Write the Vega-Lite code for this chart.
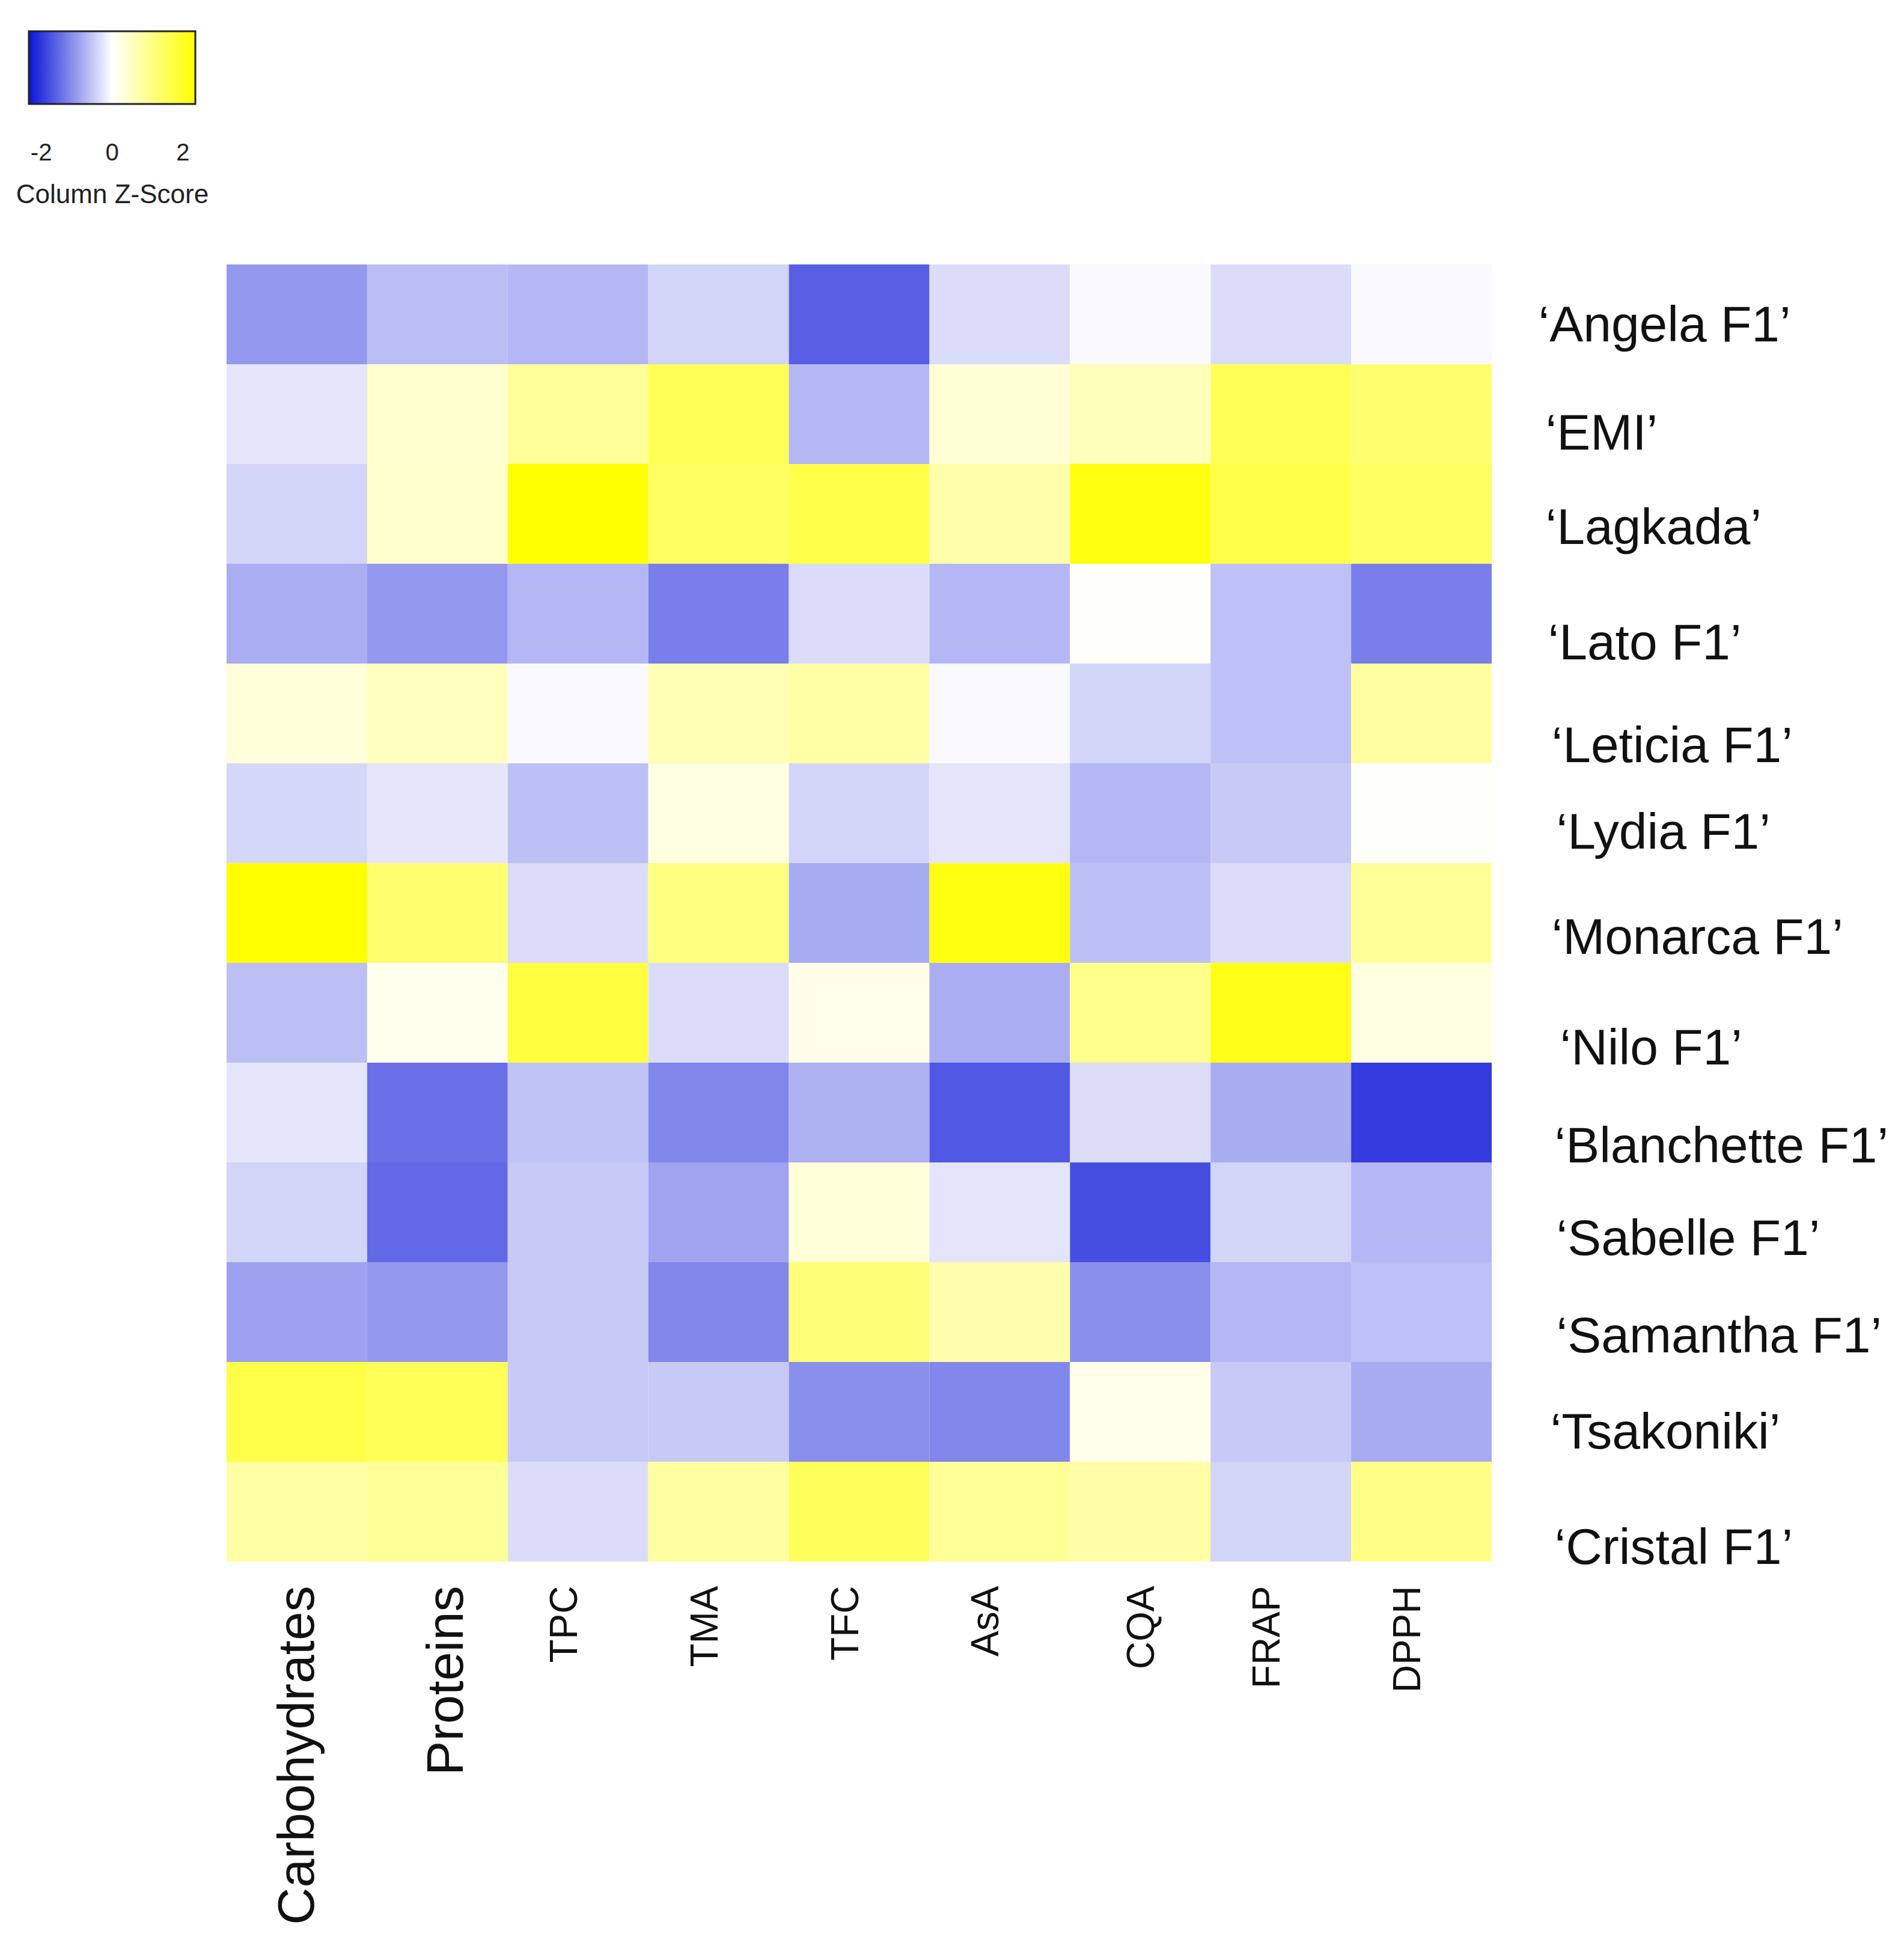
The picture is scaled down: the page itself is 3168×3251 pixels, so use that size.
{
  "$schema": "https://vega.github.io/schema/vega-lite/v6.json",
  "autosize": {"type": "none"},
  "width": 2105,
  "height": 2158,
  "padding": {"left": 377, "top": 440, "right": 686, "bottom": 653},
  "background": "white",
  "config": {"view": {"stroke": null}, "font": "Liberation Sans"},
  "data": {"values": [
    {"c":"‘Angela F1’","v":"Carbohydrates","z":-1.03},{"c":"‘Angela F1’","v":"Proteins","z":-0.65},{"c":"‘Angela F1’","v":"TPC","z":-0.72},{"c":"‘Angela F1’","v":"TMA","z":-0.43},{"c":"‘Angela F1’","v":"TFC","z":-1.6},{"c":"‘Angela F1’","v":"AsA","z":-0.35},{"c":"‘Angela F1’","v":"CQA","z":-0.05},{"c":"‘Angela F1’","v":"FRAP","z":-0.35},{"c":"‘Angela F1’","v":"DPPH","z":-0.05},
    {"c":"‘EMI’","v":"Carbohydrates","z":-0.25},{"c":"‘EMI’","v":"Proteins","z":0.43},{"c":"‘EMI’","v":"TPC","z":0.93},{"c":"‘EMI’","v":"TMA","z":1.54},{"c":"‘EMI’","v":"TFC","z":-0.72},{"c":"‘EMI’","v":"AsA","z":0.38},{"c":"‘EMI’","v":"CQA","z":0.62},{"c":"‘EMI’","v":"FRAP","z":1.54},{"c":"‘EMI’","v":"DPPH","z":1.32},
    {"c":"‘Lagkada’","v":"Carbohydrates","z":-0.43},{"c":"‘Lagkada’","v":"Proteins","z":0.47},{"c":"‘Lagkada’","v":"TPC","z":2.35},{"c":"‘Lagkada’","v":"TMA","z":1.45},{"c":"‘Lagkada’","v":"TFC","z":1.69},{"c":"‘Lagkada’","v":"AsA","z":0.78},{"c":"‘Lagkada’","v":"CQA","z":2.2},{"c":"‘Lagkada’","v":"FRAP","z":1.69},{"c":"‘Lagkada’","v":"DPPH","z":1.45},
    {"c":"‘Lato F1’","v":"Carbohydrates","z":-0.82},{"c":"‘Lato F1’","v":"Proteins","z":-1.03},{"c":"‘Lato F1’","v":"TPC","z":-0.72},{"c":"‘Lato F1’","v":"TMA","z":-1.29},{"c":"‘Lato F1’","v":"TFC","z":-0.35},{"c":"‘Lato F1’","v":"AsA","z":-0.72},{"c":"‘Lato F1’","v":"CQA","z":0.05},{"c":"‘Lato F1’","v":"FRAP","z":-0.62},{"c":"‘Lato F1’","v":"DPPH","z":-1.29},
    {"c":"‘Leticia F1’","v":"Carbohydrates","z":0.34},{"c":"‘Leticia F1’","v":"Proteins","z":0.6},{"c":"‘Leticia F1’","v":"TPC","z":-0.05},{"c":"‘Leticia F1’","v":"TMA","z":0.67},{"c":"‘Leticia F1’","v":"TFC","z":0.82},{"c":"‘Leticia F1’","v":"AsA","z":-0.06},{"c":"‘Leticia F1’","v":"CQA","z":-0.43},{"c":"‘Leticia F1’","v":"FRAP","z":-0.62},{"c":"‘Leticia F1’","v":"DPPH","z":0.87},
    {"c":"‘Lydia F1’","v":"Carbohydrates","z":-0.4},{"c":"‘Lydia F1’","v":"Proteins","z":-0.25},{"c":"‘Lydia F1’","v":"TPC","z":-0.63},{"c":"‘Lydia F1’","v":"TMA","z":0.27},{"c":"‘Lydia F1’","v":"TFC","z":-0.43},{"c":"‘Lydia F1’","v":"AsA","z":-0.26},{"c":"‘Lydia F1’","v":"CQA","z":-0.72},{"c":"‘Lydia F1’","v":"FRAP","z":-0.53},{"c":"‘Lydia F1’","v":"DPPH","z":0.05},
    {"c":"‘Monarca F1’","v":"Carbohydrates","z":2.35},{"c":"‘Monarca F1’","v":"Proteins","z":1.32},{"c":"‘Monarca F1’","v":"TPC","z":-0.35},{"c":"‘Monarca F1’","v":"TMA","z":1.17},{"c":"‘Monarca F1’","v":"TFC","z":-0.84},{"c":"‘Monarca F1’","v":"AsA","z":2.2},{"c":"‘Monarca F1’","v":"CQA","z":-0.63},{"c":"‘Monarca F1’","v":"FRAP","z":-0.35},{"c":"‘Monarca F1’","v":"DPPH","z":0.95},
    {"c":"‘Nilo F1’","v":"Carbohydrates","z":-0.63},{"c":"‘Nilo F1’","v":"Proteins","z":0.16},{"c":"‘Nilo F1’","v":"TPC","z":1.76},{"c":"‘Nilo F1’","v":"TMA","z":-0.35},{"c":"‘Nilo F1’","v":"TFC","z":0.2},{"c":"‘Nilo F1’","v":"AsA","z":-0.82},{"c":"‘Nilo F1’","v":"CQA","z":1.06},{"c":"‘Nilo F1’","v":"FRAP","z":2.13},{"c":"‘Nilo F1’","v":"DPPH","z":0.27},
    {"c":"‘Blanchette F1’","v":"Carbohydrates","z":-0.25},{"c":"‘Blanchette F1’","v":"Proteins","z":-1.43},{"c":"‘Blanchette F1’","v":"TPC","z":-0.6},{"c":"‘Blanchette F1’","v":"TMA","z":-1.2},{"c":"‘Blanchette F1’","v":"TFC","z":-0.78},{"c":"‘Blanchette F1’","v":"AsA","z":-1.67},{"c":"‘Blanchette F1’","v":"CQA","z":-0.34},{"c":"‘Blanchette F1’","v":"FRAP","z":-0.83},{"c":"‘Blanchette F1’","v":"DPPH","z":-1.96},
    {"c":"‘Sabelle F1’","v":"Carbohydrates","z":-0.43},{"c":"‘Sabelle F1’","v":"Proteins","z":-1.5},{"c":"‘Sabelle F1’","v":"TPC","z":-0.54},{"c":"‘Sabelle F1’","v":"TMA","z":-0.92},{"c":"‘Sabelle F1’","v":"TFC","z":0.34},{"c":"‘Sabelle F1’","v":"AsA","z":-0.26},{"c":"‘Sabelle F1’","v":"CQA","z":-1.77},{"c":"‘Sabelle F1’","v":"FRAP","z":-0.43},{"c":"‘Sabelle F1’","v":"DPPH","z":-0.72},
    {"c":"‘Samantha F1’","v":"Carbohydrates","z":-0.94},{"c":"‘Samantha F1’","v":"Proteins","z":-1.02},{"c":"‘Samantha F1’","v":"TPC","z":-0.54},{"c":"‘Samantha F1’","v":"TMA","z":-1.2},{"c":"‘Samantha F1’","v":"TFC","z":1.25},{"c":"‘Samantha F1’","v":"AsA","z":0.75},{"c":"‘Samantha F1’","v":"CQA","z":-1.12},{"c":"‘Samantha F1’","v":"FRAP","z":-0.72},{"c":"‘Samantha F1’","v":"DPPH","z":-0.62},
    {"c":"‘Tsakoniki’","v":"Carbohydrates","z":1.69},{"c":"‘Tsakoniki’","v":"Proteins","z":1.54},{"c":"‘Tsakoniki’","v":"TPC","z":-0.54},{"c":"‘Tsakoniki’","v":"TMA","z":-0.54},{"c":"‘Tsakoniki’","v":"TFC","z":-1.12},{"c":"‘Tsakoniki’","v":"AsA","z":-1.2},{"c":"‘Tsakoniki’","v":"CQA","z":0.18},{"c":"‘Tsakoniki’","v":"FRAP","z":-0.54},{"c":"‘Tsakoniki’","v":"DPPH","z":-0.84},
    {"c":"‘Cristal F1’","v":"Carbohydrates","z":0.83},{"c":"‘Cristal F1’","v":"Proteins","z":0.95},{"c":"‘Cristal F1’","v":"TPC","z":-0.35},{"c":"‘Cristal F1’","v":"TMA","z":0.87},{"c":"‘Cristal F1’","v":"TFC","z":1.5},{"c":"‘Cristal F1’","v":"AsA","z":0.95},{"c":"‘Cristal F1’","v":"CQA","z":0.8},{"c":"‘Cristal F1’","v":"FRAP","z":-0.43},{"c":"‘Cristal F1’","v":"DPPH","z":1.1}
  ]},
  "mark": {"type": "rect"},
  "encoding": {
    "x": {
      "field": "v", "type": "nominal", "sort": null,
      "scale": {"paddingInner": 0, "paddingOuter": 0},
      "axis": {
        "title": null, "orient": "bottom", "domain": false, "ticks": false,
        "labelAngle": -90, "labelAlign": "right", "labelBaseline": "middle",
        "labelPadding": 40, "labelColor": "#111", "labelFont": "Liberation Sans",
        "labelFontSize": {"condition": {"test": "datum.value == 'Carbohydrates' || datum.value == 'Proteins'", "value": 86}, "value": 64},
        "labelOffset": {"condition": [
          {"test": "datum.value == 'Carbohydrates'", "value": 2},
          {"test": "datum.value == 'Proteins'", "value": 16},
          {"test": "datum.value == 'CQA'", "value": 4}
        ], "value": -21},
        "labelLimit": 1000
      }
    },
    "y": {
      "field": "c", "type": "nominal", "sort": null,
      "scale": {"paddingInner": 0, "paddingOuter": 0},
      "axis": {
        "title": null, "orient": "right", "domain": false, "ticks": false,
        "labelAlign": "left", "labelBaseline": "middle",
        "labelFontSize": 84, "labelColor": "#111", "labelFont": "Liberation Sans",
        "labelPadding": {"condition": [
          {"test": "datum.value == '‘Angela F1’'", "value": 77},
          {"test": "datum.value == '‘EMI’' || datum.value == '‘Lagkada’'", "value": 89},
          {"test": "datum.value == '‘Lato F1’'", "value": 93},
          {"test": "datum.value == '‘Tsakoniki’'", "value": 97},
          {"test": "datum.value == '‘Leticia F1’' || datum.value == '‘Monarca F1’'", "value": 99},
          {"test": "datum.value == '‘Blanchette F1’' || datum.value == '‘Cristal F1’'", "value": 104},
          {"test": "datum.value == '‘Nilo F1’'", "value": 113}
        ], "value": 107},
        "labelOffset": {"condition": [
          {"test": "datum.value == '‘Angela F1’'", "value": 20},
          {"test": "datum.value == '‘EMI’' || datum.value == '‘Lydia F1’'", "value": 34},
          {"test": "datum.value == '‘Lagkada’'", "value": 25},
          {"test": "datum.value == '‘Lato F1’'", "value": 51},
          {"test": "datum.value == '‘Leticia F1’'", "value": 56},
          {"test": "datum.value == '‘Monarca F1’'", "value": 43},
          {"test": "datum.value == '‘Nilo F1’'", "value": 61},
          {"test": "datum.value == '‘Blanchette F1’'", "value": 58},
          {"test": "datum.value == '‘Sabelle F1’'", "value": 46},
          {"test": "datum.value == '‘Samantha F1’'", "value": 42},
          {"test": "datum.value == '‘Tsakoniki’'", "value": 36},
          {"test": "datum.value == '‘Cristal F1’'", "value": 62}
        ], "value": 40},
        "labelLimit": 1000
      }
    },
    "color": {
      "field": "z", "type": "quantitative",
      "scale": {"domain": [-2.35, 0, 2.35], "range": ["#0a14d8", "#ffffff", "#ffff00"], "interpolate": "rgb", "clamp": true},
      "legend": {
        "orient": "none", "legendX": -350, "legendY": -388, "direction": "horizontal",
        "gradientLength": 277, "gradientThickness": 121,
        "gradientStrokeColor": "#222", "gradientStrokeWidth": 3,
        "values": [-2, 0, 2], "labelFontSize": 40, "labelOffset": 62, "labelAlign": "center",
        "labelExpr": "datum.value < 0 ? '-' + format(-datum.value, 'd') : format(datum.value, 'd')",
        "labelColor": "#222", "labelFont": "Liberation Sans", "labelLimit": 500,
        "title": "Column Z-Score", "titleOrient": "bottom", "titleFontSize": 44,
        "titleFontWeight": "normal", "titleAnchor": "middle", "titlePadding": 28, "titleLimit": 1000,
        "titleColor": "#222", "titleFont": "Liberation Sans", "padding": 0
      }
    }
  }
}
